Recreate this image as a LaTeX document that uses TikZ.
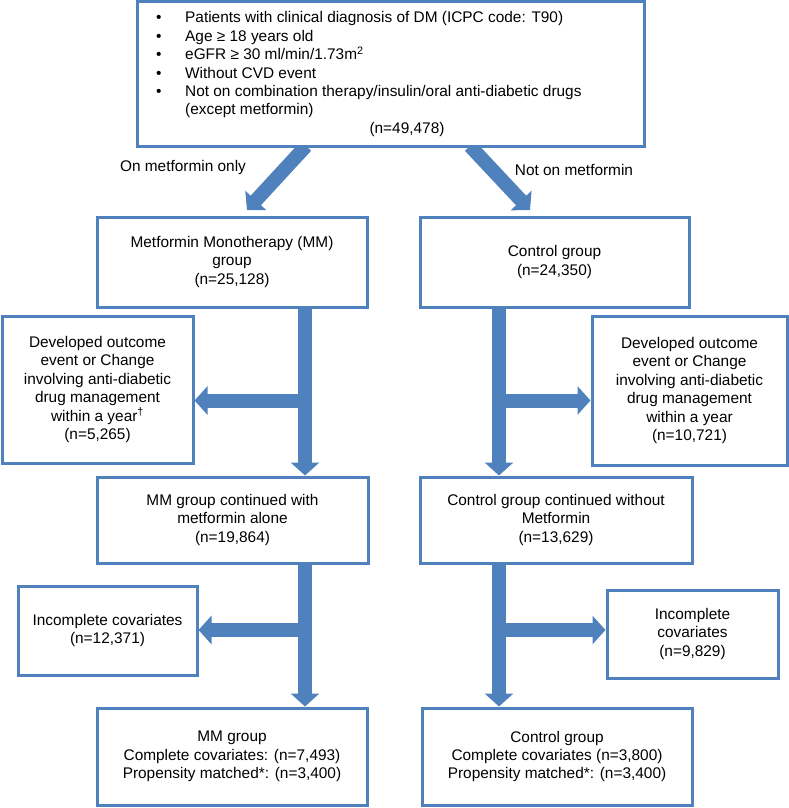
\documentclass[tikz,border=0pt]{standalone}
\usepackage{fontspec}
\setmainfont{Liberation Sans}
\usetikzlibrary{arrows.meta}
\definecolor{fblue}{HTML}{4F81BD}
\pgfdeclarelayer{bg}
\pgfsetlayers{bg,main}
\begin{document}
\begin{tikzpicture}[x=1pt,y=-1pt,
  txt/.style={font=\fontsize{15.4}{18.4}\selectfont},
  box/.style={txt, draw=fblue, line width=3pt, fill=white, inner sep=0pt, align=center},
  lbl/.style={txt, inner sep=0pt},
  fat/.style={draw=fblue, line width=14pt, -{Triangle[width=28pt,length=13pt]}}]
\useasboundingbox (0,0) rectangle (788,808);

% boxes
\node[box, minimum width=507pt, minimum height=144pt] (top) at (390.5,74) {};
\node[lbl, anchor=west, align=left] (crit) at (156,65) {%
\makebox[29pt][l]{•}Patients with clinical diagnosis of DM (ICPC code: T90)\\
\makebox[29pt][l]{•}Age ≥ 18 years old\\
\makebox[29pt][l]{•}eGFR ≥ 30 ml/min/1.73m\textsuperscript{2}\\
\makebox[29pt][l]{•}Without CVD event\\
\makebox[29pt][l]{•}Not on combination therapy/insulin/oral anti-diabetic drugs\\
\hspace*{29pt}(except metformin)};
\node[lbl] (ntop) at (407,130) {(n=49,478)};

\node[lbl] (lon) at (183,168) {On metformin only};
\node[lbl] (lnot) at (574,170) {Not on metformin};

\node[box, minimum width=270pt, minimum height=90pt] (mm) at (232,262)
  {Metformin Monotherapy (MM)\\group\\(n=25,128)};
\node[box, minimum width=269pt, minimum height=90pt] (ctl) at (554.5,262)
  {Control group\\(n=24,350)};

\node[box, minimum width=191pt, minimum height=147pt] (devL) at (97.5,389.5)
  {Developed outcome\\event or Change\\involving anti-diabetic\\drug management\\within a year\textsuperscript{†}\\(n=5,265)};
\node[box, minimum width=195pt, minimum height=149pt] (devR) at (689.5,390.5)
  {Developed outcome\\event or Change\\involving anti-diabetic\\drug management\\within a year\\(n=10,721)};

\node[box, minimum width=271pt, minimum height=86pt] (mmc) at (232.5,520)
  {MM group continued with\\metformin alone\\(n=19,864)};
\node[box, minimum width=272pt, minimum height=86pt] (ctc) at (556,520)
  {Control group continued without\\Metformin\\(n=13,629)};

\node[box, minimum width=179pt, minimum height=89pt] (incL) at (107.5,630.5)
  {Incomplete covariates\\(n=12,371)};
\node[box, minimum width=171pt, minimum height=88pt] (incR) at (692.5,634)
  {Incomplete\\covariates\\(n=9,829)};

\node[box, minimum width=270pt, minimum height=97pt] (mmb) at (232,756.5)
  {MM group\\Complete covariates: (n=7,493)\\Propensity matched*: (n=3,400)};
\node[box, minimum width=270pt, minimum height=97pt] (ctb) at (557,756.5)
  {Control group\\Complete covariates (n=3,800)\\Propensity matched*: (n=3,400)};

% junctions and free ends
\coordinate (tlS) at (306,146);
\coordinate (tlE) at (247,210);
\coordinate (trS) at (470,146);
\coordinate (trE) at (530,210);
\coordinate (jL1) at (305,400.5);
\coordinate (jR1) at (499,400.5);
\coordinate (jL2) at (305,630);
\coordinate (jR2) at (499,630);

\begin{pgfonlayer}{bg}
\draw[fat] (tlS) -- (tlE);
\draw[fat] (trS) -- (trE);
\draw[fat] (mm.south -| jL1) -- (mmc.north -| jL1);
\draw[fat] (jL1) -- (devL.east |- jL1);
\draw[fat] (ctl.south -| jR1) -- (ctc.north -| jR1);
\draw[fat] (jR1) -- (devR.west |- jR1);
\draw[fat] (mmc.south -| jL2) -- (mmb.north -| jL2);
\draw[fat] (jL2) -- (incL.east |- jL2);
\draw[fat] (ctc.south -| jR2) -- (ctb.north -| jR2);
\draw[fat] (jR2) -- (incR.west |- jR2);
\end{pgfonlayer}
\end{tikzpicture}
\end{document}
